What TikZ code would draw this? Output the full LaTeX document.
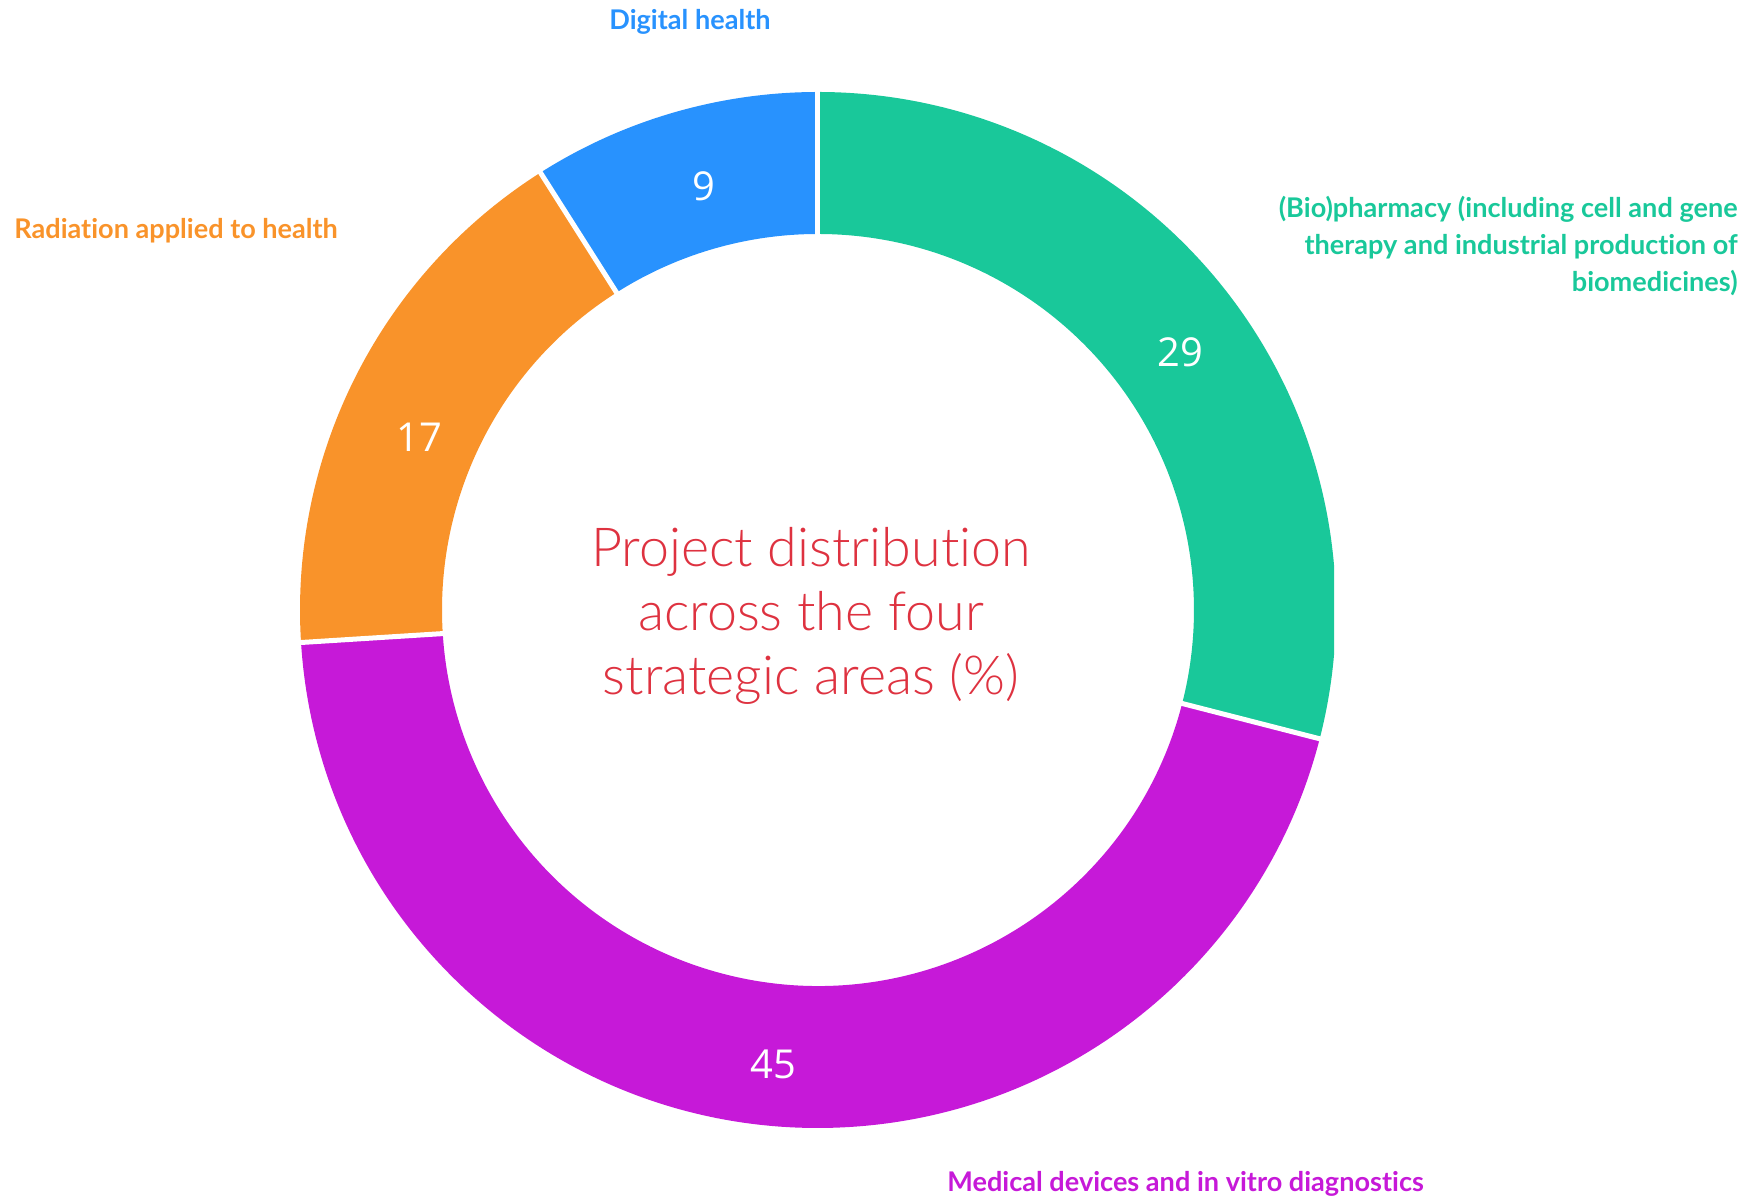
\documentclass[tikz,border=0pt]{standalone}
\usepackage{fontspec}
\setmainfont[Ligatures=NoCommon]{Lato}
\newfontfamily\titlefont[Ligatures=NoCommon]{Lato Light}
\newfontfamily\valuefont{Open Sans}
\definecolor{digitalblue}{HTML}{2892FE}
\definecolor{bioteal}{HTML}{19C89A}
\definecolor{devicepurple}{HTML}{C619D8}
\definecolor{radorange}{HTML}{F9932A}
\definecolor{titlered}{HTML}{DE3240}
\begin{document}
\begin{tikzpicture}[
      x=0.5bp, y=0.5bp,
      area/.style={
        font=\bfseries\fontsize{13.6}{18.5}\selectfont,
        inner sep=0pt
      },
      value/.style={
        font=\valuefont\fontsize{20}{24}\selectfont,
        text=white,
        inner sep=0pt
      },
      title/.style={
        font=\titlefont\fontsize{27}{32}\selectfont,
        text=titlered,
        align=center,
        inner sep=0pt
      }
    ]
    \useasboundingbox (-818,-590) rectangle (944,610);

    % Ring
    \begin{scope}
      \clip (-818,-590) rectangle (516,610);
      \foreach \start/\stop/\col in {90/-14.4/bioteal, -14.4/-176.4/devicepurple, -176.4/-237.6/radorange, -237.6/-270/digitalblue}{
        \fill[\col] (\start:376) arc[start angle=\start, end angle=\stop, radius=376] -- (\stop:518) arc[start angle=\stop, end angle=\start, radius=518] -- cycle;
      }
      % Separators
      \foreach \ang in {90,-14.4,-176.4,-237.6}
        \draw[white, line width=2.5bp] (\ang:370) -- (\ang:524);
    \end{scope}

    % Values
    \node[value] (Val29) at (362,258) {29};
    \node[value] (Val45) at (-45,-454) {45};
    \node[value] (Val17) at (-399,173) {17};
    \node[value] (Val9) at (-114,424) {9};

    % Area labels
    \node[area, text=digitalblue, anchor=base] (Digital) at (-128,580) {Digital health};
    \node[area, text=radorange, anchor=base west] (Radiation) at (-804,371) {Radiation applied to health};
    \node[area, text=bioteal, align=right, anchor=north east] (Bio) at (920,414) {(Bio)pharmacy (including cell and gene\\therapy and industrial production of\\biomedicines)};
    \node[area, text=devicepurple, anchor=base west] (Devices) at (129,-582) {Medical devices and in vitro diagnostics};

    % Title
    \node[title] (Title) at (-7,-6) {Project distribution\\across the four\\strategic areas (\%)};
\end{tikzpicture}
\end{document}
